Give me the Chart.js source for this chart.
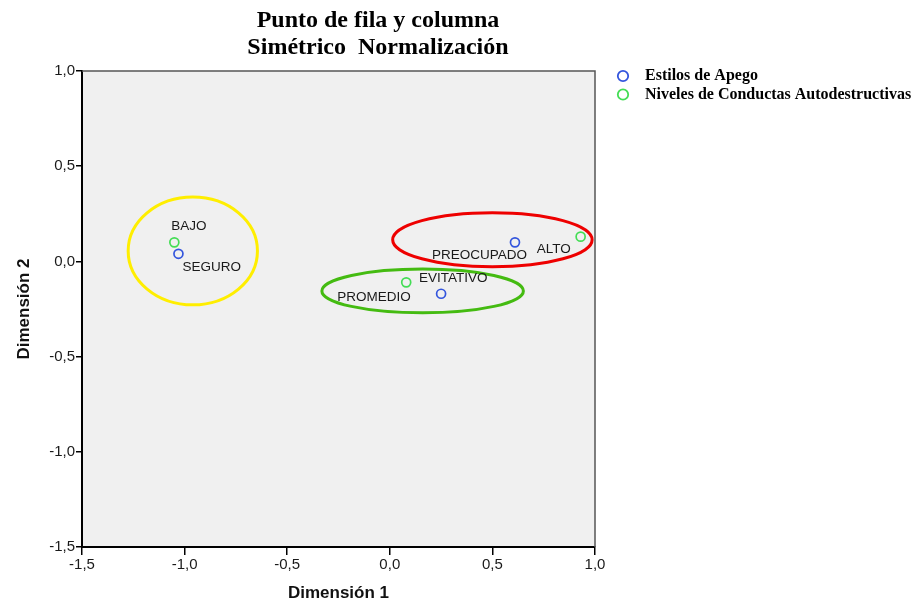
<!DOCTYPE html>
<html>
<head>
<meta charset="utf-8">
<script src="https://cdn.jsdelivr.net/npm/chart.js@4.4.1/dist/chart.umd.min.js"></script>
<style>
html, body { margin:0; padding:0; background:#fff; }
#wrap { width:912px; height:606px; }
</style>
</head>
<body>
<div id="wrap"><canvas id="mapa"></canvas></div>
<script>
// puntos de fila (estilos de apego) y columna (conductas)
const apegoNombres = ['SEGURO', 'PREOCUPADO', 'EVITATIVO'];
const apegoDim1 = [-1.03, 0.61, 0.25];
const apegoDim2 = [0.04, 0.10, -0.17];
const conductaNombres = ['BAJO', 'ALTO', 'PROMEDIO'];
const conductaDim1 = [-1.05, 0.93, 0.08];
const conductaDim2 = [0.10, 0.13, -0.11];
const ejeTicks = [-1.5, -1.0, -0.5, 0.0, 0.5, 1.0];

// elipses que agrupan categorias (unidades de dimension)
const grupoCentroX = [-0.96, 0.50, 0.16];
const grupoCentroY = [0.055, 0.114, -0.155];
const grupoRadioX = [0.315, 0.486, 0.491];
const grupoRadioY = [0.283, 0.142, 0.115];

// estilos
const grupoColores = ['#ffee00', '#ee0000', '#44bb11'];
const etiquetaDesp = {
  SEGURO: [4, 13], PREOCUPADO: [-83, 13], EVITATIVO: [-22, -15],
  BAJO: [-3, -16], ALTO: [-44, 13], PROMEDIO: [-69, 15]
};
const sans = 'Arial, "Liberation Sans", sans-serif';
const serif = '"Times New Roman", "Liberation Serif", serif';

const fmt = v => Number(v).toFixed(1).replace('.', ',');

const dibujo = {
  id: 'dibujo',
  beforeDraw(chart) {
    const {ctx, chartArea: a} = chart;
    ctx.save();
    ctx.fillStyle = '#f0f0f0';
    ctx.fillRect(a.left, a.top, a.right - a.left, a.bottom - a.top);
    ctx.restore();
  },
  afterDraw(chart) {
    const {ctx, chartArea: a, scales: {x, y}} = chart;
    ctx.save();
    // borde superior y derecho
    ctx.strokeStyle = '#555';
    ctx.lineWidth = 1.5;
    ctx.beginPath();
    ctx.moveTo(a.left, a.top);
    ctx.lineTo(a.right, a.top);
    ctx.lineTo(a.right, a.bottom);
    ctx.stroke();

    // elipses
    ctx.lineWidth = 3;
    grupoCentroX.forEach((cx, i) => {
      const px = x.getPixelForValue(cx);
      const py = y.getPixelForValue(grupoCentroY[i]);
      const rx = Math.abs(x.getPixelForValue(cx + grupoRadioX[i]) - px);
      const ry = Math.abs(y.getPixelForValue(grupoCentroY[i] + grupoRadioY[i]) - py);
      ctx.strokeStyle = grupoColores[i];
      ctx.beginPath();
      ctx.ellipse(px, py, rx, ry, 0, 0, Math.PI * 2);
      ctx.stroke();
    });

    // etiquetas de puntos
    ctx.fillStyle = '#1a1a1a';
    ctx.font = '13.5px ' + sans;
    ctx.textAlign = 'left';
    ctx.textBaseline = 'middle';
    chart.data.datasets.forEach((ds, di) => {
      chart.getDatasetMeta(di).data.forEach((pt, i) => {
        const nombre = ds.data[i].nombre;
        const d = etiquetaDesp[nombre];
        ctx.fillText(nombre, pt.x + d[0], pt.y + d[1]);
      });
    });

    // titulo
    ctx.fillStyle = '#000';
    ctx.textAlign = 'center';
    ctx.font = 'bold 24px ' + serif;
    ctx.fillText('Punto de fila y columna', 378, 21);
    ctx.fillText('Simétrico  Normalización', 378, 48);

    // leyenda
    ctx.textAlign = 'left';
    ctx.font = 'bold 16px ' + serif;
    chart.data.datasets.forEach((ds, i) => {
      const ly = 76 + i * 18.5;
      ctx.strokeStyle = ds.borderColor;
      ctx.lineWidth = 1.8;
      ctx.beginPath();
      ctx.arc(623, ly, 5.2, 0, Math.PI * 2);
      ctx.stroke();
      ctx.fillStyle = '#000';
      ctx.fillText(ds.label, 645, ly);
    });
    ctx.restore();
  }
};

const ejeComun = (titulo, largo) => ({
  type: 'linear',
  min: -1.5,
  max: 1.0,
  afterBuildTicks: s => { s.ticks = ejeTicks.map(v => ({value: v})); },
  grid: { drawOnChartArea: false, drawTicks: true, tickLength: largo, color: '#000', lineWidth: 1.5 },
  border: { display: true, color: '#000', width: 2 },
  ticks: { color: '#1a1a1a', font: { family: sans, size: 15 }, padding: 1, maxRotation: 0, callback: fmt },
  title: { display: true, text: titulo, color: '#111', font: { family: sans, size: 17, weight: 'bold' } }
});

const ejeX = ejeComun('Dimensión 1', 8);
ejeX.title.padding = { top: 0, bottom: 2 };
ejeX.afterFit = s => { s.height = 59; };
const ejeY = ejeComun('Dimensión 2', 6);
ejeY.title.padding = { top: 14, bottom: 0 };
ejeY.afterFit = s => { s.width = 82; };

new Chart(document.getElementById('mapa').getContext('2d'), {
  type: 'scatter',
  data: {
    datasets: [
      {
        label: 'Estilos de Apego',
        data: apegoDim1.map((v, i) => ({ x: v, y: apegoDim2[i], nombre: apegoNombres[i] })),
        borderColor: '#3355dd',
        backgroundColor: 'rgba(0,0,0,0)',
        borderWidth: 1.7,
        pointRadius: 4.5
      },
      {
        label: 'Niveles de Conductas Autodestructivas',
        data: conductaDim1.map((v, i) => ({ x: v, y: conductaDim2[i], nombre: conductaNombres[i] })),
        borderColor: '#44dd55',
        backgroundColor: 'rgba(0,0,0,0)',
        borderWidth: 1.7,
        pointRadius: 4.5
      }
    ]
  },
  options: {
    responsive: true,
    maintainAspectRatio: false,
    animation: false,
    layout: { padding: { top: 71, right: 317, bottom: 0, left: 0 } },
    scales: { x: ejeX, y: ejeY },
    plugins: {
      legend: { display: false },
      tooltip: { enabled: false }
    }
  },
  plugins: [dibujo]
});
</script>
</body>
</html>
